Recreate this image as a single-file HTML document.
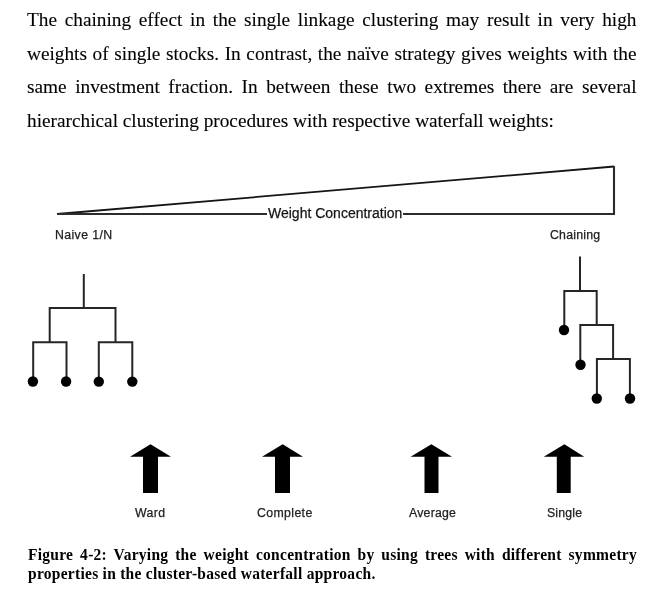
<!DOCTYPE html>
<html><head><meta charset="utf-8">
<style>
html,body{margin:0;padding:0;background:#fff;width:660px;height:596px;overflow:hidden;position:relative}
.p{position:absolute;left:27px;width:609.5px;font-family:"Liberation Serif",serif;font-size:19.3px;line-height:33.5px;color:#000;text-align:justify;text-align-last:justify;white-space:nowrap;-webkit-text-stroke:0.1px #000}
.p.last{text-align-last:left;text-align:left}
.lab{position:absolute;font-family:"Liberation Sans",sans-serif;font-size:12.3px;line-height:16px;color:#222;white-space:nowrap;-webkit-text-stroke:0.25px #222}
.cap{position:absolute;left:27.5px;width:609px;font-family:"Liberation Serif",serif;font-weight:bold;font-size:15.5px;line-height:19px;color:#000;white-space:nowrap}
svg{position:absolute;left:0;top:0}
.p,.lab,.cap{will-change:transform}
</style></head><body>
<div class="p" style="top:3px;white-space:normal">The chaining effect in the single linkage clustering may result in very high</div>
<div class="p" style="top:36.5px;white-space:normal">weights of single stocks. In contrast, the naïve strategy gives weights with the</div>
<div class="p" style="top:70px;white-space:normal">same investment fraction. In between these two extremes there are several</div>
<div class="p last" style="top:103.5px">hierarchical clustering procedures with respective waterfall weights:</div>

<svg width="660" height="596" viewBox="0 0 660 596">
  <g stroke="#2c2c2c" stroke-width="2.1" fill="none">
    <line x1="57" y1="214" x2="614" y2="166.5" stroke="#151515" stroke-width="1.8"/>
    <line x1="614" y1="166" x2="614" y2="214.5"/>
    <line x1="57" y1="214" x2="267" y2="214"/>
    <line x1="403" y1="214" x2="614.95" y2="214"/>
  </g>
  <g stroke="#262626" stroke-width="2" fill="none" stroke-linecap="square">
    <path d="M83.8 275 V308 M49.7 308 H115.5 M49.7 308 V342.2 M115.5 308 V342.2 M33.2 342.2 H66.5 M98.8 342.2 H132.3 M33.2 342.2 V381.6 M66.5 342.2 V381.6 M98.8 342.2 V381.6 M132.3 342.2 V381.6"/>
    <path d="M580 257.6 V291 M564.3 291 H596.7 M564.3 291 V330 M596.7 291 V325.1 M580.3 325.1 H613.1 M580.3 325.1 V365 M613.1 325.1 V358.9 M596.9 358.9 H629.9 M596.9 358.9 V398 M629.9 358.9 V398"/>
  </g>
  <g fill="#000">
    <circle cx="32.9" cy="381.5" r="5.2"/>
    <circle cx="66.1" cy="381.5" r="5.2"/>
    <circle cx="98.8" cy="381.6" r="5.2"/>
    <circle cx="132.3" cy="381.6" r="5.2"/>
    <circle cx="564" cy="330" r="5.2"/>
    <circle cx="580.5" cy="364.7" r="5.2"/>
    <circle cx="596.8" cy="398.5" r="5.2"/>
    <circle cx="630" cy="398.5" r="5.2"/>
    <polygon points="150.5,444.3 171,456.8 158,456.8 158,493 143,493 143,456.8 130,456.8"/>
    <polygon points="282.7,444.3 303,456.8 290,456.8 290,493 275,493 275,456.8 262,456.8"/>
    <polygon points="431.4,444.3 452,456.8 438.5,456.8 438.5,493 424.5,493 424.5,456.8 410.6,456.8"/>
    <polygon points="564.4,444.3 584.2,456.8 570.7,456.8 570.7,493 556.8,493 556.8,456.8 543.8,456.8"/>
  </g>
</svg>
<div class="lab" style="left:268px;top:205.3px;font-size:14px;color:#111">Weight Concentration</div>
<div class="lab" style="left:55px;top:227px;letter-spacing:0.39px">Naive 1/N</div>
<div class="lab" style="left:549.5px;top:227px;letter-spacing:0.22px">Chaining</div>
<div class="lab" style="left:134.6px;top:505px;letter-spacing:0.43px">Ward</div>
<div class="lab" style="left:256.8px;top:505px;letter-spacing:0.37px">Complete</div>
<div class="lab" style="left:409px;top:505px;letter-spacing:0.23px">Average</div>
<div class="lab" style="left:547px;top:505px;letter-spacing:0.16px">Single</div>

<div class="cap" style="top:545.1px;transform:scaleY(1.03);transform-origin:0 14.7px;text-align:justify;text-align-last:justify;letter-spacing:0.27px">Figure 4-2: Varying the weight concentration by using trees with different symmetry</div>
<div class="cap" style="top:564.2px;transform:scaleY(1.03);transform-origin:0 14.7px;letter-spacing:0.27px">properties in the cluster-based waterfall approach.</div>
</body></html>
